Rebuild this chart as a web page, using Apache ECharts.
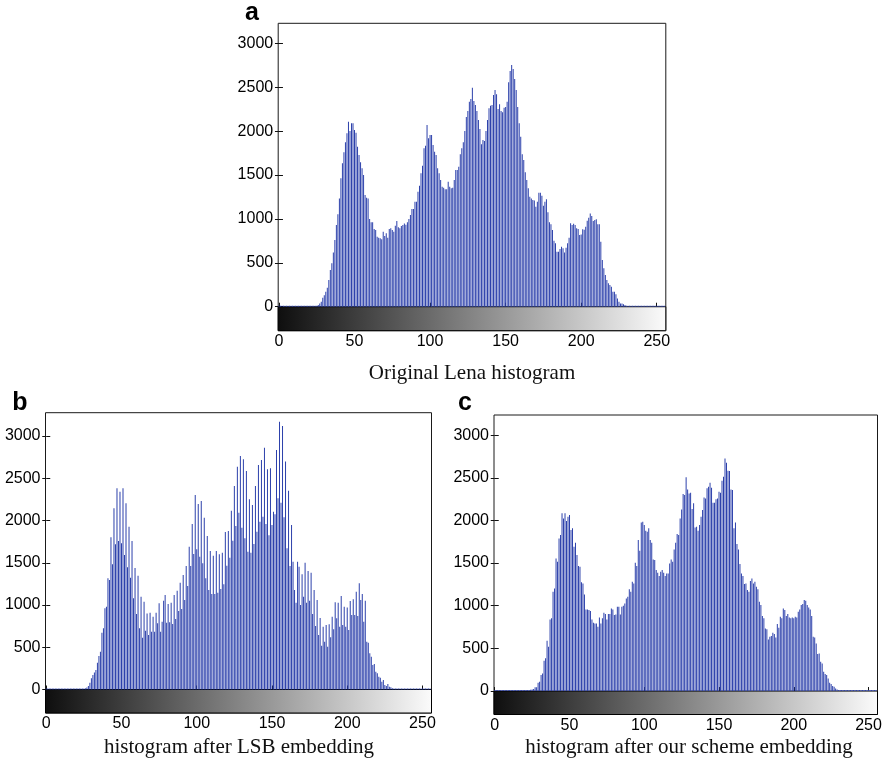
<!DOCTYPE html>
<html>
<head>
<meta charset="utf-8">
<script src="https://cdn.jsdelivr.net/npm/echarts@6/dist/echarts.min.js"></script>
<style>
html,body{margin:0;padding:0;background:#fff;}
#chart{width:887px;height:760px;}
</style>
</head>
<body>
<div id="chart"></div>
<script>
// ---------------- data ----------------
const bins = Array.from({length: 256}, (_, i) => i);   // grey levels 0..255
const xTicks = [0, 50, 100, 150, 200, 250];
const yTicks = [0, 500, 1000, 1500, 2000, 2500, 3000];

// (a) Original Lena histogram
const histA = [
  0,0,0,0,0,0,0,0,0,0,0,0,0,0,0,0,
  0,0,0,0,0,0,2,4,8,12,19,38,56,103,130,171,
  217,304,418,494,619,760,930,1052,1234,1462,1633,1758,1872,1975,2107,2001,
  2089,2089,2012,1982,1822,1728,1645,1576,1500,1272,1242,1234,999,961,961,885,
  874,797,786,779,768,854,805,836,786,885,893,874,854,923,976,904,
  893,919,930,949,934,961,1000,1044,1113,1113,1196,1196,1310,1378,1519,1606,
  1804,1834,2069,1918,1956,1956,1842,1765,1728,1576,1519,1443,1367,1355,1337,1337,
  1424,1367,1348,1355,1443,1557,1557,1594,1736,1804,1872,2001,2160,2229,2335,2365,
  2494,2343,2297,2229,2126,2024,1850,1899,1887,2001,2126,2260,2290,2297,2411,2468,
  2419,2252,2305,2229,2214,2267,2275,2335,2556,2684,2753,2707,2593,2468,2275,2089,
  1936,1736,1671,1531,1443,1348,1253,1234,1215,1211,1139,1196,1298,1298,1264,1150,
  1196,1223,1075,961,938,873,752,722,627,627,657,683,665,619,672,722,
  786,950,930,946,930,893,885,816,824,881,877,911,980,1014,1063,1033,
  976,987,995,938,938,740,531,437,361,304,266,247,228,171,171,141,
  95,57,38,38,27,19,11,8,5,4,3,2,1,0,0,1,
  0,0,2,0,0,1,0,0,0,2,0,0,1,0,0,0
];

// (b) histogram after LSB embedding
const histB = [
  0,0,0,0,0,0,0,0,0,0,0,0,0,0,0,0,
  0,0,0,0,0,0,3,5,8,10,14,25,41,81,132,172,
  200,231,318,397,448,672,724,961,980,1316,1296,1801,1481,2144,1718,2381,
  1757,2341,1730,2381,1592,2203,1446,1927,1323,1757,1079,1438,893,1347,724,1099,
  613,1039,696,901,645,909,684,862,684,909,783,1020,684,802,1051,1118,
  791,1012,795,1028,775,1118,835,1170,929,1264,953,1355,1059,1462,1225,1691,
  1462,1959,1604,2302,1659,2196,1572,2231,1493,2034,1316,1817,1178,1639,1130,1584,
  1130,1639,1146,1600,1190,1620,1245,1864,1466,1876,1560,2117,1762,2409,1935,2637,
  2093,2764,1915,2724,1789,2586,1631,2251,1620,2184,1722,2409,1868,2657,1986,2716,
  2046,2862,1959,2606,1825,2618,1947,2105,2073,2835,2263,3170,2211,3119,2038,2697,
  1671,2353,1462,1947,1513,1178,1028,1513,1454,1000,1363,1099,1501,1028,1403,1051,
  1383,894,1178,752,1059,645,846,519,744,566,764,507,771,618,862,712,
  1032,842,1028,744,1107,764,980,744,972,704,1048,882,1067,882,1158,870,
  1257,1059,1130,803,1051,566,554,428,389,290,302,211,191,152,140,93,
  113,53,41,65,34,26,14,8,5,3,2,1,0,0,1,0,
  0,0,0,1,0,0,2,0,0,0,1,0,0,0,0,0
];

// (c) histogram after our scheme embedding
const histC = [
  0,0,0,0,0,0,0,0,0,0,0,0,0,0,0,0,
  0,0,0,0,3,5,8,12,15,19,25,43,43,97,109,187,
  207,355,383,590,519,840,852,1164,1203,1555,1516,1789,1829,2083,2024,2083,
  1993,2043,2063,1887,1907,1692,1739,1594,1465,1457,1274,1262,1133,957,957,949,
  938,840,801,793,793,754,863,793,852,918,902,840,902,902,969,957,
  891,898,988,988,898,988,1000,1027,1086,1106,1192,1164,1281,1262,1504,1465,
  1770,1645,1977,1985,1946,1879,1868,1907,1770,1739,1543,1535,1418,1387,1348,1399,
  1418,1387,1348,1379,1379,1496,1543,1516,1660,1739,1840,1829,2024,2129,2309,2297,
  2505,2364,2317,2325,2133,2200,1918,1926,1879,1946,2043,2122,2270,2258,2376,2395,
  2442,2383,2208,2208,2247,2258,2337,2325,2466,2512,2727,2677,2583,2579,2364,2356,
  1907,1977,1723,1660,1489,1379,1348,1254,1262,1184,1164,1290,1320,1262,1281,1223,
  1192,1047,1008,879,852,734,723,605,637,644,683,668,629,785,742,871,
  852,969,949,879,902,863,852,863,852,871,863,930,957,1008,1020,1066,
  1059,1008,980,957,879,637,629,558,433,441,343,324,226,199,187,148,
  97,82,58,50,31,19,11,6,4,3,2,1,1,0,0,0,
  0,1,0,0,0,1,0,0,1,0,0,0,2,0,0,0
];

const captions = ['Original Lena histogram', 'histogram after LSB embedding', 'histogram after our scheme embedding'];
const panelLetters = ['a', 'b', 'c'];

// ---------------- layout / style ----------------
const X_MIN = -0.5, X_MAX = 256;
const panels = [
  {left: 278.2, top: 23.3,  width: 387.6, height: 307.4, yMin: -273, yMax: 3228, hist: histA,
   capX: 472, capY: 373, letX: 252, letY: 13},
  {left: 45.5,  top: 412.7, width: 386,   height: 300.3, yMin: -278, yMax: 3276, hist: histB,
   capX: 239, capY: 747, letX: 20, letY: 403},
  {left: 494,   top: 415,   width: 383.5, height: 299.5, yMin: -275, yMax: 3236, hist: histC,
   capX: 689, capY: 747, letX: 465, letY: 403}
];

const SANS = "'Liberation Sans', Arial, Helvetica, sans-serif";
const SERIF = "'Liberation Serif', 'Times New Roman', serif";
const BAR_COLOR = '#2c40ab';
const plain = v => String(v);

const grid = [], xAxis = [], yAxis = [], series = [], graphic = [];

panels.forEach((p, k) => {
  grid.push({
    left: p.left, top: p.top, width: p.width, height: p.height,
    containLabel: false, outerBoundsMode: 'none',
    show: true, borderColor: '#1a1a1a', borderWidth: 1, backgroundColor: 'transparent'
  });
});

// bottom x axes (0..2)
panels.forEach((p, k) => {
  xAxis.push({
    type: 'value', gridIndex: k, position: 'bottom', min: X_MIN, max: X_MAX,
    axisLine: {show: false},
    splitLine: {show: false},
    axisTick: {show: true, inside: true, length: 4, customValues: xTicks, lineStyle: {color: '#111', width: 1}},
    axisLabel: {show: true, customValues: xTicks, formatter: plain, margin: 3, color: '#000', fontSize: 16, fontFamily: SANS}
  });
});
// top x axes (3..5), mirrored ticks
panels.forEach((p, k) => {
  xAxis.push({
    type: 'value', gridIndex: k, position: 'top', min: X_MIN, max: X_MAX,
    axisLine: {show: false},
    splitLine: {show: false},
    axisTick: {show: true, inside: true, length: 4, customValues: xTicks, lineStyle: {color: '#111', width: 1}},
    axisLabel: {show: false}
  });
});
// left y axes (0..2)
panels.forEach((p, k) => {
  yAxis.push({
    type: 'value', gridIndex: k, position: 'left', min: p.yMin, max: p.yMax,
    axisLine: {show: false},
    splitLine: {show: false},
    axisTick: {show: true, inside: true, length: 4, customValues: yTicks, lineStyle: {color: '#111', width: 1}},
    axisLabel: {show: true, customValues: yTicks, formatter: plain, margin: 5, color: '#000', fontSize: 16, fontFamily: SANS}
  });
});
// right y axes (3..5)
panels.forEach((p, k) => {
  yAxis.push({
    type: 'value', gridIndex: k, position: 'right', min: p.yMin, max: p.yMax,
    axisLine: {show: false},
    splitLine: {show: false},
    axisTick: {show: true, inside: true, length: 4, customValues: yTicks, lineStyle: {color: '#111', width: 1}},
    axisLabel: {show: false}
  });
});

panels.forEach((p, k) => {
  series.push({
    type: 'bar', xAxisIndex: k, yAxisIndex: k,
    data: bins.map((b, i) => [b, p.hist[i]]),
    barWidth: 1, barMinHeight: 1,
    itemStyle: {color: BAR_COLOR},
    silent: true, animation: false,
    markArea: {
      silent: true,
      label: {show: false},
      itemStyle: {
        color: {type: 'linear', x: 0, y: 0, x2: 1, y2: 0,
                colorStops: [{offset: 0, color: '#0e0e0e'}, {offset: 1, color: '#fbfbfb'}]},
        borderColor: '#000', borderWidth: 1
      },
      data: [[{xAxis: X_MIN, yAxis: p.yMin}, {xAxis: X_MAX, yAxis: 0}]]
    }
  });
  graphic.push({
    type: 'text', x: p.capX, y: p.capY, silent: true,
    style: {text: captions[k], font: '21px ' + SERIF, fill: '#111', textAlign: 'center', textVerticalAlign: 'middle'}
  });
  graphic.push({
    type: 'text', x: p.letX, y: p.letY, silent: true,
    style: {text: panelLetters[k], font: 'bold 25px ' + SANS, fill: '#000', textAlign: 'center', textVerticalAlign: 'middle'}
  });
});

const chart = echarts.init(document.getElementById('chart'), null, {renderer: 'canvas'});
chart.setOption({
  animation: false,
  backgroundColor: '#fff',
  grid, xAxis, yAxis, series, graphic
});
</script>
</body>
</html>
